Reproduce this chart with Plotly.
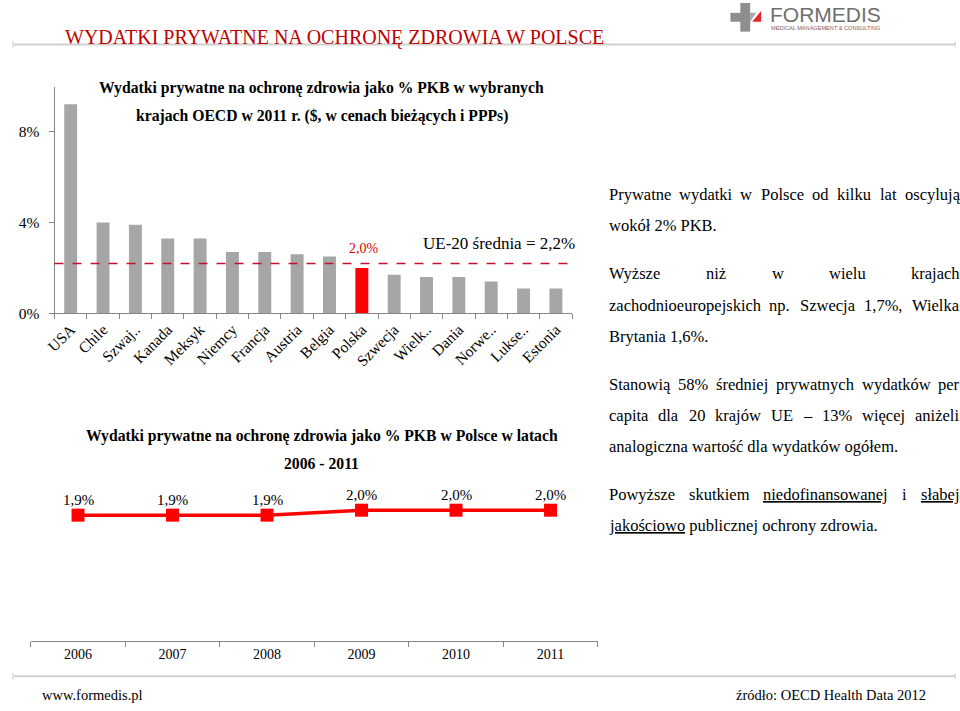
import plotly.graph_objects as go

# ---------------- data ----------------
countries = ["USA", "Chile", "Szwaj..", "Kanada", "Meksyk", "Niemcy", "Francja", "Austria",
             "Belgia", "Polska", "Szwecja", "Wielk..", "Dania", "Norwe..", "Lukse..", "Estonia"]
private_pct = [9.2, 4.0, 3.9, 3.3, 3.3, 2.7, 2.7, 2.6, 2.5, 2.0, 1.7, 1.6, 1.6, 1.4, 1.1, 1.1]
eu20_avg = 2.2
highlight = "Polska"
y_tick_vals = [0, 4, 8]
y_tick_text = ["0%", "4%", "8%"]

years = ["2006", "2007", "2008", "2009", "2010", "2011"]
poland_pct = [1.9, 1.9, 1.9, 2.0, 2.0, 2.0]

paragraphs = [
    [("Prywatne wydatki w Polsce od kilku lat oscylują", True),
     ("wokół 2% PKB.", False)],
    [("Wyższe niż w wielu krajach", True),
     ("zachodnioeuropejskich np. Szwecja 1,7%,  Wielka", True),
     ("Brytania 1,6%.", False)],
    [("Stanowią 58% średniej prywatnych wydatków per", True),
     ("capita dla 20 krajów UE – 13% więcej aniżeli", True),
     ("analogiczna wartość dla wydatków ogółem.", False)],
    [("Powyższe skutkiem niedofinansowanej i słabej", True),
     ("jakościowo publicznej ochrony zdrowia.", False)],
]
underlined = {"niedofinansowanej", "słabej", "jakościowo"}

# ---------------- helpers ----------------
W, H = 960, 711
SERIF = "Liberation Serif, Times New Roman, serif"


def px(x):
    return x / W


def py(y):
    return 1 - y / H


def fmt(v):
    return f"{v:.1f}".replace(".", ",") + "%"


# Times New Roman advance widths (1/1000 em) - Liberation Serif is metric compatible
TW = {" ": 250, ",": 250, ".": 250, "%": 833, "–": 500, "-": 333, ":": 278, "(": 333, ")": 333}
for c in "0123456789":
    TW[c] = 500
lw = dict(a=444, b=500, c=444, d=500, e=444, f=333, g=500, h=500, i=278, j=278, k=500, l=278,
          m=778, n=500, o=500, p=500, q=500, r=333, s=389, t=278, u=500, v=500, w=722, x=500,
          y=500, z=444)
uw = dict(A=722, B=667, C=667, D=722, E=611, F=556, G=722, H=722, I=333, J=389, K=722, L=611,
          M=889, N=722, O=722, P=556, Q=722, R=667, S=556, T=611, U=722, V=722, W=944, X=722,
          Y=722, Z=611)
TW.update(lw)
TW.update(uw)
for acc, base in zip("ąęłóśżźćń", "aeloszzcn"):
    TW[acc] = TW[base]
TW["Ś"] = TW["S"]


def text_w(s, size):
    return sum(TW.get(ch, 500) for ch in s) / 1000.0 * size


fig = go.Figure()

# ---------------- bar chart ----------------
bar_colors = ["#FF0000" if c == highlight else "#A6A6A6" for c in countries]
fig.add_trace(go.Bar(x=countries, y=private_pct, marker=dict(color=bar_colors, line=dict(width=0)),
                     xaxis="x", yaxis="y", hoverinfo="x+y", showlegend=False))

# ---------------- line chart ----------------
fig.add_trace(go.Scatter(x=years, y=poland_pct, mode="lines+markers",
                         marker=dict(symbol="square", size=13, color="#FF0000"),
                         line=dict(color="#FF0000", width=3.5),
                         xaxis="x2", yaxis="y2", cliponaxis=False, showlegend=False))

axis_grey = "#868686"
fig.update_layout(
    width=W, height=H, autosize=False,
    margin=dict(l=0, r=0, t=0, b=0),
    paper_bgcolor="white", plot_bgcolor="white",
    bargap=0.6,
    xaxis=dict(domain=[px(45), px(568)], anchor="y", type="category", range=[-0.5, 15.5],
               showline=True, linecolor=axis_grey, linewidth=1,
               ticks="outside", tickson="boundaries", ticklen=5, tickcolor=axis_grey,
               tickangle=-45, tickfont=dict(family=SERIF, size=15.5, color="#000000"),
               showgrid=False, zeroline=False),
    yaxis=dict(domain=[py(317), py(88)], anchor="x", range=[0, 9.96],
               tickvals=y_tick_vals, ticktext=y_tick_text,
               showline=True, linecolor=axis_grey, linewidth=1,
               ticks="outside", ticklen=5, tickcolor=axis_grey, ticklabelstandoff=6,
               tickfont=dict(family=SERIF, size=15.5, color="#000000"),
               showgrid=False, zeroline=False),
    xaxis2=dict(domain=[px(21), px(594)], anchor="y2", type="category", range=[-0.5, 5.5],
                showline=True, linecolor=axis_grey, linewidth=1,
                ticks="outside", tickson="boundaries", ticklen=5, tickcolor=axis_grey,
                tickfont=dict(family=SERIF, size=14, color="#000000"),
                showgrid=False, zeroline=False),
    yaxis2=dict(domain=[py(648), py(490)], anchor="x2", range=[-0.64, 2.52], visible=False),
)

shapes = []
annotations = []

# data labels of the line chart (category index positions on the x2 axis)
for i, v in enumerate(poland_pct):
    annotations.append(dict(text=fmt(v), xref="x2", yref="y2", x=i, y=v, yanchor="middle",
                            yshift=15, showarrow=False,
                            font=dict(family=SERIF, size=15, color="#000000")))

# EU-20 average dashed line
shapes.append(dict(type="line", xref="x domain", x0=0, x1=1, yref="y", y0=eu20_avg, y1=eu20_avg,
                   line=dict(color="#C8102E", width=1.5, dash="dash")))
annotations.append(dict(text=f"UE-20 średnia = {fmt(eu20_avg)}", xref="paper", yref="y",
                        x=px(573), y=eu20_avg, xanchor="right", yanchor="bottom", yshift=8,
                        showarrow=False, font=dict(family=SERIF, size=17, color="#000000")))
annotations.append(dict(text=fmt(private_pct[countries.index(highlight)]), xref="x", yref="y",
                        x=countries.index(highlight), y=eu20_avg, yanchor="bottom", yshift=5,
                        xshift=2, showarrow=False,
                        font=dict(family=SERIF, size=14, color="#E00000")))

# chart titles
for txt, y in [("Wydatki prywatne na ochronę zdrowia jako % PKB w wybranych", 89),
               ("krajach OECD w 2011 r. ($, w cenach bieżących i PPPs)", 117),
               ("Wydatki prywatne na ochronę zdrowia jako % PKB w Polsce w latach", 441),
               ("2006 - 2011", 469)]:
    annotations.append(dict(text=f"<b>{txt}</b>", xref="paper", yref="paper", x=px(315), y=py(y),
                            xanchor="center", yanchor="middle", showarrow=False,
                            font=dict(family=SERIF, size=15.7, color="#000000")))

# header title
annotations.append(dict(text="WYDATKI PRYWATNE NA OCHRONĘ ZDROWIA W POLSCE", xref="paper",
                        yref="paper", x=px(55), y=py(38), xanchor="left", yanchor="middle",
                        showarrow=False, borderpad=0,
                        font=dict(family=SERIF, size=20, color="#C00000")))

# separator lines
for ly in (45, 684):
    shapes.append(dict(type="line", xref="paper", yref="paper", x0=px(4), x1=px(955),
                       y0=py(ly), y1=py(ly), line=dict(color="#D0D0D0", width=2)))
    for lx in (3, 955):
        shapes.append(dict(type="line", xref="paper", yref="paper", x0=px(lx), x1=px(lx),
                           y0=py(ly - 3), y1=py(ly + 3), line=dict(color="#C8C8C8", width=1)))

# footer
annotations.append(dict(text="www.formedis.pl", xref="paper", yref="paper", x=px(31), y=py(703),
                        xanchor="left", yanchor="middle", showarrow=False, borderpad=0,
                        font=dict(family=SERIF, size=14.5, color="#000000")))
annotations.append(dict(text="źródło: OECD Health Data 2012", xref="paper", yref="paper",
                        x=px(927), y=py(703), xanchor="right", yanchor="middle",
                        showarrow=False, borderpad=0,
                        font=dict(family=SERIF, size=14.5, color="#000000")))

# logo
shapes.append(dict(type="rect", xref="paper", yref="paper", x0=px(738), x1=px(748),
                   y0=py(32), y1=py(3), fillcolor="#8E8E8E", line=dict(width=0)))
shapes.append(dict(type="rect", xref="paper", yref="paper", x0=px(728), x1=px(748),
                   y0=py(22), y1=py(13), fillcolor="#8E8E8E", line=dict(width=0)))
shapes.append(dict(type="path", xref="paper", yref="paper",
                   path=f"M {px(750)} {py(22)} L {px(759)} {py(22)} L {px(759)} {py(11)} Z",
                   fillcolor="#E3262A", line=dict(width=0)))
shapes.append(dict(type="path", xref="paper", yref="paper",
                   path=f"M {px(748)} {py(22)} L {px(748)} {py(13)} L {px(754)} {py(13)} Z",
                   fillcolor="#A8A8A8", line=dict(width=0)))
annotations.append(dict(text="FORMEDIS", xref="paper", yref="paper", x=px(767), y=py(15),
                        xanchor="left", yanchor="middle", showarrow=False, borderpad=0,
                        font=dict(family="Liberation Sans, Arial, sans-serif", size=21,
                                  color="#6E6E6E")))
annotations.append(dict(text="MEDICAL MANAGEMENT &amp; CONSULTING", xref="paper", yref="paper",
                        x=px(768), y=py(28), xanchor="left", yanchor="middle", showarrow=False,
                        borderpad=0,
                        font=dict(family="Liberation Sans, Arial, sans-serif", size=5.6,
                                  color="#8A5A5A")))

# right-hand text (justified)
FS = 16.5
LEFT, RIGHT = 604, 958
LINE = 31.5
PARA = 17
y = 197
for para in paragraphs:
    for line, justify in para:
        words = line.split()

        def deco(w):
            return f"<u>{w}</u>" if w in underlined else w
        if justify and len(words) > 1:
            total = sum(text_w(w, FS) for w in words)
            gap = (RIGHT - LEFT - total) / (len(words) - 1)
            x = LEFT
            for w in words:
                annotations.append(dict(text=deco(w), xref="paper", yref="paper", x=px(x),
                                        y=py(y), xanchor="left", yanchor="middle",
                                        showarrow=False, borderpad=0,
                                        font=dict(family=SERIF, size=FS, color="#000000")))
                x += text_w(w, FS) + gap
        else:
            annotations.append(dict(text=" ".join(deco(w) for w in words), xref="paper",
                                    yref="paper", x=px(LEFT), y=py(y), xanchor="left",
                                    yanchor="middle", showarrow=False, borderpad=0,
                                    font=dict(family=SERIF, size=FS, color="#000000")))
        y += LINE
    y += PARA

fig.update_layout(shapes=shapes, annotations=annotations)
# remove the default 8px page margin so the 960x711 figure fills the window exactly
fig.write_html("out.html", config={"displayModeBar": False},
               post_script="document.body.style.margin='0px';")
